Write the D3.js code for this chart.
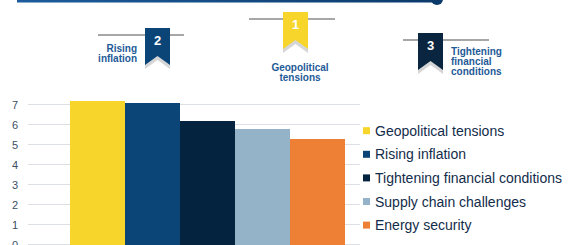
<!DOCTYPE html>
<html>
<head>
<meta charset="utf-8">
<script src="https://cdn.jsdelivr.net/npm/d3@7"></script>
<style>
  body { margin: 0; background: #fff; }
  svg { display: block; font-family: "Liberation Sans", Arial, sans-serif; }
</style>
</head>
<body>
<script>
// chart data
var categories = ['Geopolitical tensions', 'Rising inflation', 'Tightening financial conditions', 'Supply chain challenges', 'Energy security'];
var values = [7.2, 7.1, 6.2, 5.8, 5.3];
var colors = ['#f7d52a', '#0b4578', '#04233f', '#94b3c9', '#ee8036'];
var yTicks = [0, 1, 2, 3, 4, 5, 6, 7];

// top-3 ranking ribbons
var rankNumbers = ['1', '2', '3'];
var rankLabels = [['Geopolitical', 'tensions'], ['Rising', 'inflation'], ['Tightening', 'financial', 'conditions']];

var width = 574, height = 245;

var svg = d3.select('body').append('svg')
  .attr('width', width)
  .attr('height', height);

// top banner line
var grad = svg.append('defs').append('linearGradient').attr('id', 'topline');
grad.append('stop').attr('offset', '0%').attr('stop-color', '#1c5c9c');
grad.append('stop').attr('offset', '100%').attr('stop-color', '#0b3a6b');
svg.append('rect').attr('x', 17).attr('y', -2).attr('width', 420).attr('height', 4.5).attr('fill', 'url(#topline)');
svg.append('circle').attr('cx', 437).attr('cy', -1).attr('r', 6).attr('fill', '#0b3a6b');

// ribbons
var ribbons = [
  {x: 283, top: 12, lineX: 249, color: '#f7d52a', anchor: 'middle', tx: 300, ty: 67},
  {x: 145, top: 28, lineX: 98, color: '#0b4578', anchor: 'end', tx: 137, ty: 48},
  {x: 418, top: 33, lineX: 403, color: '#0a2540', anchor: 'start', tx: 451, ty: 51}
];
var rw = 25, rh = 37, notch = 9;

ribbons.forEach(function(r, i) {
  var g = svg.append('g');
  g.append('line')
    .attr('x1', r.lineX).attr('x2', r.lineX + 86)
    .attr('y1', r.top + 7).attr('y2', r.top + 7)
    .attr('stroke', '#8a8a8a').attr('stroke-width', 1.5);
  var shape = function(dy) {
    return [[r.x, r.top + dy], [r.x + rw, r.top + dy], [r.x + rw, r.top + rh + dy],
            [r.x + rw / 2, r.top + rh - notch + dy], [r.x, r.top + rh + dy]];
  };
  g.append('polygon').attr('points', shape(4).join(' ')).attr('fill', '#d6d6d6');
  g.append('polygon').attr('points', shape(0).join(' ')).attr('fill', r.color);
  g.append('text')
    .attr('x', r.x + rw / 2).attr('y', r.top + 12)
    .attr('text-anchor', 'middle').attr('dominant-baseline', 'central')
    .attr('fill', '#fff').attr('font-size', 13).attr('font-weight', 'bold')
    .text(rankNumbers[i]);
  g.selectAll('text.lbl')
    .data(rankLabels[i])
    .enter().append('text')
    .attr('class', 'lbl')
    .attr('x', r.tx)
    .attr('y', function(d, j) { return r.ty + j * 10; })
    .attr('text-anchor', r.anchor).attr('dominant-baseline', 'central')
    .attr('fill', '#1e5a97').attr('font-size', 10).attr('font-weight', 'bold')
    .text(function(d) { return d; });
});

// bar chart
var y = d3.scaleLinear().domain([0, 7]).range([245, 105]);
var x = d3.scaleBand().domain(categories).range([70, 345]).padding(0);

svg.append('g').selectAll('line')
  .data(yTicks)
  .enter().append('line')
  .attr('x1', 28).attr('x2', 360)
  .attr('y1', function(d) { return Math.round(y(d)) - 0.5; })
  .attr('y2', function(d) { return Math.round(y(d)) - 0.5; })
  .attr('stroke', '#dcdfe3').attr('stroke-width', 1);

svg.append('g').selectAll('text')
  .data(yTicks)
  .enter().append('text')
  .attr('x', 15).attr('y', function(d) { return y(d); })
  .attr('text-anchor', 'middle').attr('dominant-baseline', 'central')
  .attr('fill', '#3b4f66').attr('font-size', 11)
  .text(function(d) { return d; });

svg.append('g').selectAll('rect')
  .data(values)
  .enter().append('rect')
  .attr('x', function(d, i) { return x(categories[i]); })
  .attr('width', x.bandwidth())
  .attr('y', function(d) { return y(d); })
  .attr('height', function(d) { return y(0) - y(d); })
  .attr('fill', function(d, i) { return colors[i]; });

// legend
var legend = svg.append('g').selectAll('g')
  .data(categories)
  .enter().append('g')
  .attr('transform', function(d, i) { return 'translate(363,' + (130.7 + i * 23.6) + ')'; });
legend.append('rect')
  .attr('x', 0).attr('y', -3.5).attr('width', 7).attr('height', 7)
  .attr('fill', function(d, i) { return colors[i]; });
legend.append('text')
  .attr('x', 12).attr('y', 0)
  .attr('dominant-baseline', 'central')
  .attr('fill', '#132c4a').attr('font-size', 14)
  .text(function(d) { return d; });
</script>
</body>
</html>
